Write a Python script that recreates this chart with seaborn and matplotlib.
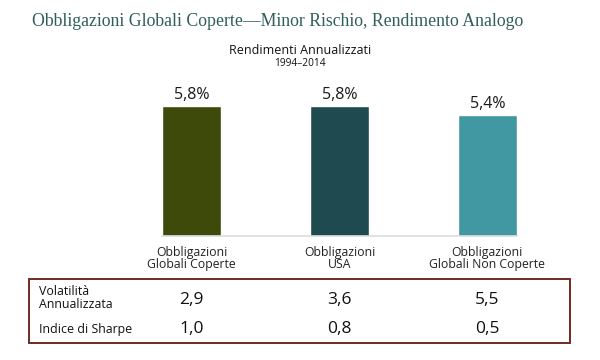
import seaborn as sns
import matplotlib.pyplot as plt
import matplotlib.transforms as mtransforms
from matplotlib.patches import Rectangle

categories = ['Obbligazioni\nGlobali Coperte', 'Obbligazioni\nUSA', 'Obbligazioni\nGlobali Non Coperte']
returns = [5.8, 5.8, 5.4]
return_labels = ['5,8%', '5,8%', '5,4%']
volatility = ['2,9', '3,6', '5,5']
sharpe = ['1,0', '0,8', '0,5']
colors = ['#3d4a0a', '#1f4a4f', '#4197a2']

sns.set_style('white')
plt.rcParams['font.family'] = ['Open Sans', 'DejaVu Sans']

fig = plt.figure(figsize=(6, 3.6), dpi=100)
ax = fig.add_axes([162 / 600, 124 / 360, 355 / 600, 134 / 360])

sns.barplot(x=categories, y=returns, hue=categories, palette=colors,
            width=0.4, saturation=1, legend=False, ax=ax)
ax.set_xlim(-0.2, 2.2)
ax.set_ylim(0, 6)
sns.despine(ax=ax, left=True)
ax.spines['bottom'].set_color('#dcdcdc')
ax.spines['bottom'].set_linewidth(1.2)
ax.set_yticks([])
ax.set_xlabel('')
ax.set_ylabel('')
ax.tick_params(axis='x', length=0, pad=7, labelsize=8.8, labelcolor='#222222')
for lbl in ax.get_xticklabels():
    lbl.set_linespacing(0.95)

# value labels on bars
for i, (v, t) in enumerate(zip(returns, return_labels)):
    ax.annotate(t, (i, v), xytext=(0, 2.5), textcoords='offset points',
                ha='center', va='bottom', fontsize=11.5, color='#1a1a1a')

# titles
fig.text(32 / 600, 1 - 21 / 360, 'Obbligazioni Globali Coperte\u2014Minor Rischio, Rendimento Analogo',
         family=['Liberation Serif'], fontsize=12.75, color='#2f5f58', va='center', ha='left')
fig.text(0.5, 1 - 51 / 360, 'Rendimenti Annualizzati', fontsize=9, ha='center', va='center', color='#111111')
fig.text(0.5, 1 - 63 / 360, '1994\u20132014', fontsize=7.3, ha='center', va='center', color='#111111')

# table below the chart
trans = mtransforms.blended_transform_factory(ax.transData, fig.transFigure)
fig.patches.append(Rectangle((29 / 600, 1 - 343 / 360), (570 - 29) / 600, (343 - 279) / 360,
                             transform=fig.transFigure, fill=False, edgecolor='#6e2c22', linewidth=1.4))
fig.text(39 / 600, 1 - 298 / 360, 'Volatilità\nAnnualizzata', fontsize=8.9, ha='left', va='center',
         linespacing=1.0, color='#111111')
fig.text(39 / 600, 1 - 329 / 360, 'Indice di Sharpe', fontsize=8.9, ha='left', va='center', color='#111111')
for i in range(len(categories)):
    ax.text(i, 1 - 300 / 360, volatility[i], transform=trans, fontsize=12.5, ha='center', va='center',
            color='#111111', clip_on=False)
    ax.text(i, 1 - 329 / 360, sharpe[i], transform=trans, fontsize=12.5, ha='center', va='center',
            color='#111111', clip_on=False)

fig.savefig('out.png', dpi=100)
